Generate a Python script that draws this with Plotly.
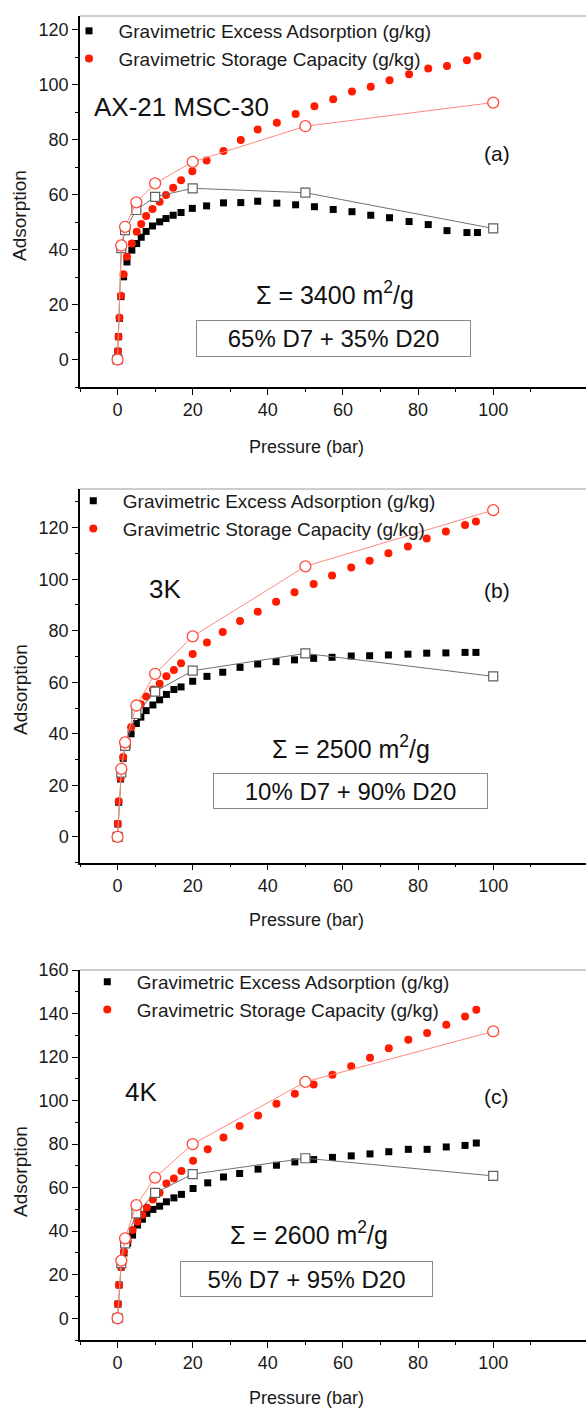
import plotly.graph_objects as go

# ---------------- data ----------------
# Panel (a) AX-21 MSC-30
p_a = [0, 0.1, 0.25, 0.5, 0.9, 1.6, 2.5, 3.8, 5.1, 6.3, 7.6, 9.3, 11.2, 12.9, 14.8, 16.9,
       19.9, 23.7, 28.2, 32.8, 37.3, 42.4, 47.4, 52.4, 57.4, 62.4, 67.4, 72.4, 77.6, 82.7,
       87.7, 93.0, 95.8]
excess_a = [0, 3, 8.3, 15, 22.9, 30.1, 35.5, 39.8, 42.2, 44.5, 46.6, 48.6, 50.1, 51.3, 52.5,
            53.5, 55.0, 55.9, 57.0, 57.1, 57.6, 56.9, 56.3, 55.6, 54.6, 53.8, 52.5, 51.6, 50.2,
            49.1, 46.9, 46.2, 46.2]
storage_a = [0, 3, 8.3, 15.2, 23.2, 31, 37.4, 42.2, 46.5, 49.3, 52.2, 54.8, 57.4, 59.9, 62.5,
             65.2, 68.5, 72.4, 75.9, 79.9, 83.7, 86.2, 89.3, 92.2, 94.7, 97.5, 99.3, 101.6,
             103.8, 105.9, 106.8, 108.9, 110.4]

# Panel (b) 3K
p_b = [0, 0.05, 0.3, 0.8, 1.5, 2.5, 3.6, 5.0, 6.2, 7.6, 9.4, 11.2, 13.0, 15.0, 16.9, 20.0,
       23.8, 28.0, 32.6, 37.3, 42.2, 47.1, 52.2, 57.1, 62.2, 67.1, 72.1, 77.3, 82.3, 87.4,
       92.5, 95.4]
excess_b = [0, 5.0, 13.5, 22.5, 30.5, 35.5, 40.0, 44.0, 46.5, 49.0, 51.2, 53.2, 55.3, 57.2,
            58.2, 60.4, 62.3, 63.9, 65.8, 67.1, 68.0, 68.7, 69.3, 69.7, 70.2, 70.3, 70.6, 70.9,
            71.3, 71.4, 71.6, 71.6]
storage_b = [0, 5.1, 13.8, 22.9, 31.0, 37.0, 42.6, 47.5, 51.5, 54.5, 57.2, 59.4, 62.3, 64.8,
             67.4, 71.0, 75.4, 79.5, 83.8, 87.4, 91.3, 94.9, 98.1, 101.4, 104.5, 107.2, 110.1,
             112.7, 115.8, 118.5, 121.0, 122.4]

# Panel (c) 4K
p_c = [0, 0.1, 0.4, 1.0, 1.7, 2.7, 4.0, 5.3, 6.6, 7.8, 9.4, 11.2, 13.0, 15.0, 17.0, 20.1,
       24.0, 28.2, 32.5, 37.4, 42.3, 47.2, 52.2, 57.2, 62.2, 67.2, 72.2, 77.4, 82.4, 87.5,
       92.5, 95.5]
excess_c = [0, 6.5, 15.3, 23.5, 30.0, 34.5, 38.2, 42.8, 45.5, 48.2, 50.0, 51.5, 53.5, 55.3,
            56.9, 59.6, 62.2, 64.9, 66.5, 68.5, 70.3, 71.8, 72.9, 73.9, 74.6, 75.5, 76.5, 77.6,
            77.6, 78.7, 79.4, 80.5]
storage_c = [0, 6.5, 15.3, 23.5, 30.5, 35.5, 40.5, 44.3, 47.5, 50.9, 54.5, 57.6, 61.9, 64.2,
             67.7, 72.4, 77.6, 83.0, 88.3, 93.2, 98.5, 103.1, 107.4, 111.9, 115.8, 119.7,
             124.0, 128.0, 131.0, 134.8, 138.6, 141.7]

# Model (open symbols) at fixed pressures
p_model = [0, 1, 2, 5, 10, 20, 50, 100]
model_excess_a = [0, 40.5, 47.1, 54.4, 59.2, 62.3, 60.7, 47.7]
model_storage_a = [0, 41.5, 48.3, 57.2, 64.1, 71.9, 84.9, 93.5]
model_excess_b = [0, 25.0, 35.3, 47.7, 56.4, 64.5, 71.2, 62.3]
model_storage_b = [0, 26.4, 36.7, 51.0, 63.3, 77.8, 105.0, 126.8]
model_excess_c = [0, 25.3, 34.4, 48.2, 57.6, 66.2, 73.5, 65.4]
model_storage_c = [0, 26.5, 36.7, 52.0, 64.6, 80.0, 108.6, 131.8]

sample_labels = ["AX-21 MSC-30", "3K", "4K"]
panel_labels = ["(a)", "(b)", "(c)"]
surface_areas = [3400, 2500, 2600]
mix_labels = ["65% D7 + 35% D20", "10% D7 + 90% D20", "5% D7 + 95% D20"]
legend_names = ["Gravimetric Excess Adsorption (g/kg)", "Gravimetric Storage Capacity (g/kg)"]
x_ticks = [0, 20, 40, 60, 80, 100]

# ---------------- style / layout ----------------
FONT = "Liberation Sans, Arial, sans-serif"
RED = "#ff1a00"
W, H = 586, 1408
ML, MR, MT, MB = 80, 0, 16, 68
PH = H - MT - MB

def py2paper(py):
    return (H - MB - py) / PH

def px2paper(px):
    return (px - ML) / (W - ML - MR)

panels = [
    dict(p=p_a, ex=excess_a, st=storage_a, mex=model_excess_a, mst=model_storage_a,
         top=16, bot=387, yr=[-10, 125],
         lab=(-6.9, 91.9), pl=(101.0, 75.1), sig=(57.9, 24.2), box=(57.4, 7.7, 271, 33),
         leg=(69, 12), ytitle=216, xtitle=447),
    dict(p=p_b, ex=excess_b, st=storage_b, mex=model_excess_b, mst=model_storage_b,
         top=489, bot=862.7, yr=[-10, 135],
         lab=(7.8, 96.1), pl=(100.9, 95.8), sig=(62.1, 35.0), box=(62.1, 18.0, 271, 32),
         leg=(73.3, 482), ytitle=690, xtitle=920),
    dict(p=p_c, ex=excess_c, st=storage_c, mex=model_excess_c, mst=model_storage_c,
         top=970, bot=1340, yr=[-10, 160],
         lab=(1.5, 104.1), pl=(100.9, 101.8), sig=(50.9, 39.0), box=(50.35, 17.8, 249, 32),
         leg=(87.3, 963), ytitle=1172, xtitle=1398),
]

fig = go.Figure()
annotations = []
shapes = []
layout = {}

for i, pn in enumerate(panels):
    k = "" if i == 0 else str(i + 1)
    xa, ya = "x" + k, "y" + k
    leg = "legend" + k
    fig.add_trace(go.Scatter(
        x=pn["p"], y=pn["ex"], mode="markers", xaxis=xa, yaxis=ya,
        name="\u2002" + legend_names[0], legend=leg,
        marker=dict(symbol="square", size=7, color="black", line=dict(width=0))))
    fig.add_trace(go.Scatter(
        x=pn["p"], y=pn["st"], mode="markers", xaxis=xa, yaxis=ya,
        name="\u2002" + legend_names[1], legend=leg,
        marker=dict(symbol="circle", size=8, color=RED, line=dict(width=0))))
    fig.add_trace(go.Scatter(
        x=p_model, y=pn["mex"], mode="lines+markers", xaxis=xa, yaxis=ya, showlegend=False,
        line=dict(color="#707070", width=1),
        marker=dict(symbol="square", size=9, color="white", line=dict(color="#606060", width=1.2))))
    fig.add_trace(go.Scatter(
        x=p_model, y=pn["mst"], mode="lines+markers", xaxis=xa, yaxis=ya, showlegend=False,
        line=dict(color="#ff8a80", width=1),
        marker=dict(symbol="circle", size=11, color="white", line=dict(color="#ff4a3a", width=1.3))))

    dom = [py2paper(pn["bot"]), py2paper(pn["top"])]
    axis_common = dict(showline=True, linecolor="black", linewidth=1.5, ticks="outside",
                       ticklen=6, tickwidth=1.2, tickcolor="black", showgrid=False,
                       zeroline=False, tickfont=dict(family=FONT, size=18, color="#1a1a1a"))
    layout["xaxis" + k] = dict(axis_common, domain=[0, 1], range=[-10, 124.7], anchor=ya,
                               tickvals=x_ticks,
                               minor=dict(tickvals=[-10, 10, 30, 50, 70, 90, 110],
                                          ticklen=3, tickwidth=1.2, tickcolor="black",
                                          ticks="outside"))
    layout["yaxis" + k] = dict(axis_common, domain=dom, range=pn["yr"], anchor=xa,
                               tick0=0, dtick=20,
                               minor=dict(dtick=10, tick0=0, ticklen=3, tickwidth=1.2,
                                          tickcolor="black", ticks="outside"))
    layout[leg] = dict(x=px2paper(pn["leg"][0]), y=py2paper(pn["leg"][1]), xanchor="left",
                       yanchor="top", bgcolor="rgba(0,0,0,0)", borderwidth=0,
                       font=dict(family=FONT, size=19, color="#1a1a1a"), tracegroupgap=0,
                       itemclick=False)

    shapes.append(dict(type="line", xref=xa + " domain", yref=ya + " domain",
                       x0=0, x1=1, y0=1, y1=1, line=dict(color="#9a9a9a", width=1)))

    annotations += [
        dict(x=pn["lab"][0], y=pn["lab"][1], xref=xa, yref=ya, text=sample_labels[i],
             showarrow=False, xanchor="left", yanchor="middle",
             font=dict(family=FONT, size=26, color="#111")),
        dict(x=pn["pl"][0], y=pn["pl"][1], xref=xa, yref=ya, text=panel_labels[i],
             showarrow=False, xanchor="center", yanchor="middle",
             font=dict(family=FONT, size=21, color="#111")),
        dict(x=pn["sig"][0], y=pn["sig"][1], xref=xa, yref=ya,
             text="\u03a3 = %d m<sup>2</sup>/g" % surface_areas[i],
             showarrow=False, xanchor="center", yanchor="middle",
             font=dict(family=FONT, size=25, color="#111")),
        dict(x=pn["box"][0], y=pn["box"][1], xref=xa, yref=ya, text=mix_labels[i],
             showarrow=False, xanchor="center", yanchor="middle",
             width=pn["box"][2], height=pn["box"][3], align="center",
             bordercolor="#8a8a8a", borderwidth=1, borderpad=1, bgcolor="white",
             font=dict(family=FONT, size=24, color="#111")),
        dict(x=px2paper(20), y=py2paper(pn["ytitle"]), xref="paper", yref="paper",
             text="Adsorption", textangle=-90, showarrow=False,
             xanchor="center", yanchor="middle",
             font=dict(family=FONT, size=19, color="#1a1a1a")),
        dict(x=px2paper(306), y=py2paper(pn["xtitle"]), xref="paper", yref="paper",
             text="Pressure (bar)", showarrow=False, xanchor="center", yanchor="middle",
             font=dict(family=FONT, size=18, color="#1a1a1a")),
    ]

fig.update_layout(
    width=W, height=H,
    margin=dict(l=ML, r=MR, t=MT, b=MB, autoexpand=False),
    paper_bgcolor="white", plot_bgcolor="white",
    font=dict(family=FONT, size=18, color="#1a1a1a"),
    annotations=annotations, shapes=shapes,
    **layout,
)

fig.write_html("out.html")
